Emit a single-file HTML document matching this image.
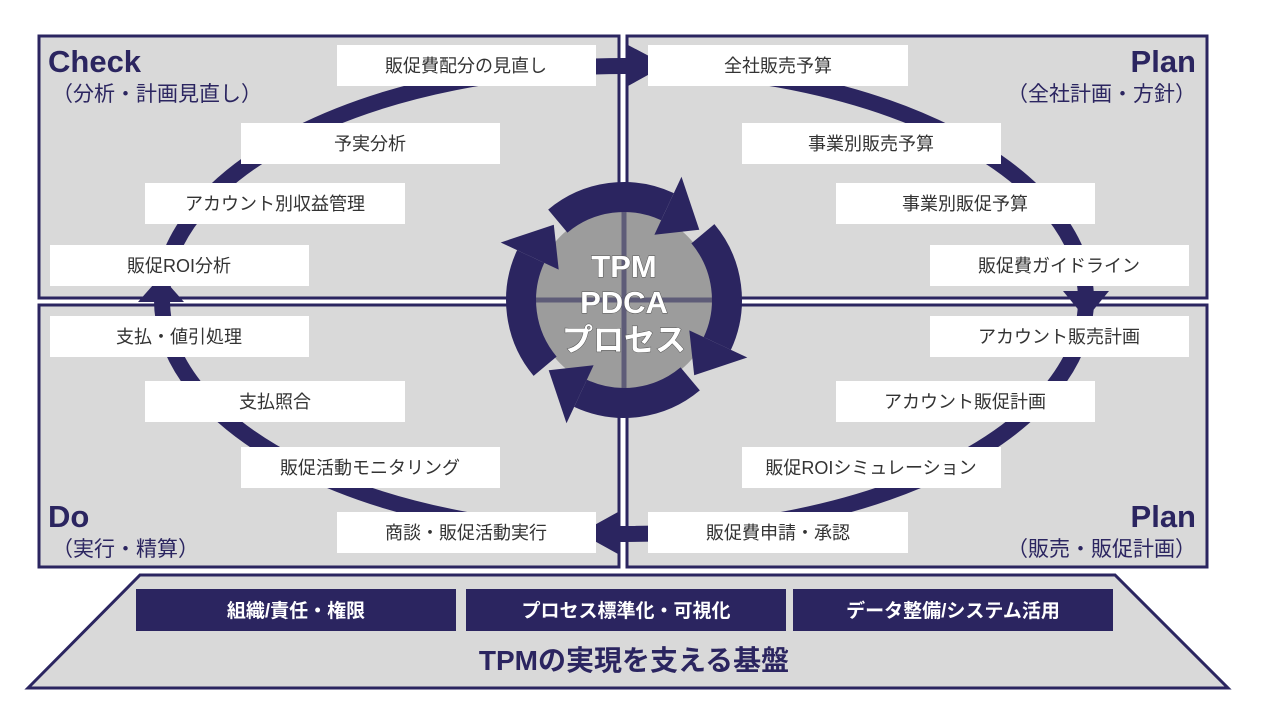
<!DOCTYPE html>
<html><head><meta charset="utf-8"><style>
body{margin:0;background:#fff;}
svg text{font-family:"Liberation Sans","Noto Sans CJK JP",sans-serif;}
</style></head><body>
<svg width="1280" height="720" viewBox="0 0 1280 720" xmlns="http://www.w3.org/2000/svg">
<g fill="#d9d9d9" stroke="#2b2560" stroke-width="3">
<rect x="39" y="36" width="580" height="262"/>
<rect x="627" y="36" width="580" height="262"/>
<rect x="39" y="305" width="580" height="262"/>
<rect x="627" y="305" width="580" height="262"/>
<polygon points="28,688 140,575 1115,575 1228,688"/>
</g>
<ellipse cx="624" cy="300" rx="462" ry="234" fill="none" stroke="#2b2560" stroke-width="16"/>
<g fill="#2b2560">
<polygon points="1063,291 1109,291 1086,319"/>
<polygon points="138,302 184,302 161,276"/>
<polygon points="628,45 628,86 666,65"/>
<polygon points="618,512 618,554 580,533"/>
</g>
<g fill="#fff">
<rect x="337" y="45" width="259" height="41"/><rect x="648" y="45" width="260" height="41"/>
<rect x="241" y="123" width="259" height="41"/><rect x="742" y="123" width="259" height="41"/>
<rect x="145" y="183" width="260" height="41"/><rect x="836" y="183" width="259" height="41"/>
<rect x="50" y="245" width="259" height="41"/><rect x="930" y="245" width="259" height="41"/>
<rect x="50" y="316" width="259" height="41"/><rect x="930" y="316" width="259" height="41"/>
<rect x="145" y="381" width="260" height="41"/><rect x="836" y="381" width="259" height="41"/>
<rect x="241" y="447" width="259" height="41"/><rect x="742" y="447" width="259" height="41"/>
<rect x="337" y="512" width="259" height="41"/><rect x="648" y="512" width="260" height="41"/>
</g>
<g font-size="18" fill="#333" text-anchor="middle">
<text x="466" y="72">販促費配分の見直し</text><text x="778" y="72">全社販売予算</text>
<text x="370" y="150">予実分析</text><text x="871" y="150">事業別販売予算</text>
<text x="275" y="210">アカウント別収益管理</text><text x="965" y="210">事業別販促予算</text>
<text x="179" y="272">販促ROI分析</text><text x="1059" y="272">販促費ガイドライン</text>
<text x="179" y="343">支払・値引処理</text><text x="1059" y="343">アカウント販売計画</text>
<text x="275" y="408">支払照合</text><text x="965" y="408">アカウント販促計画</text>
<text x="370" y="474">販促活動モニタリング</text><text x="871" y="474">販促ROIシミュレーション</text>
<text x="466" y="539">商談・販促活動実行</text><text x="778" y="539">販促費申請・承認</text>
</g>
<g fill="#2b2560">
<text x="48" y="72" font-size="31" font-weight="bold">Check</text>
<text x="52" y="101" font-size="21">（分析・計画見直し）</text>
<text x="1196" y="72" font-size="31" font-weight="bold" text-anchor="end">Plan</text>
<text x="1196" y="101" font-size="21" text-anchor="end">（全社計画・方針）</text>
<text x="48" y="527" font-size="31" font-weight="bold">Do</text>
<text x="52" y="556" font-size="21">（実行・精算）</text>
<text x="1196" y="527" font-size="31" font-weight="bold" text-anchor="end">Plan</text>
<text x="1196" y="556" font-size="21" text-anchor="end">（販売・販促計画）</text>
</g>
<circle cx="624" cy="300" r="90" fill="#9c9c9c"/>
<g stroke="#5e5c78" stroke-width="5"><line x1="624" y1="210" x2="624" y2="390"/><line x1="534" y1="300" x2="714" y2="300"/></g>
<g id="arr" fill="#2b2560">
<path d="M702.9 233.8 A103 103 0 0 1 717.3 343.5" fill="none" stroke="#2b2560" stroke-width="30"/>
<polygon points="689.3,330.4 747.3,357.5 694.2,375.3"/>
</g>
<use href="#arr" transform="rotate(90 624 300)"/>
<use href="#arr" transform="rotate(180 624 300)"/>
<use href="#arr" transform="rotate(270 624 300)"/>
<g fill="#fff" font-size="31" font-weight="bold" text-anchor="middle" style="paint-order:stroke" stroke="#555" stroke-width="1">
<text x="624" y="277">TPM</text><text x="624" y="313">PDCA</text><text x="624" y="351">プロセス</text>
</g>
<g fill="#2b2560"><rect x="136" y="589" width="320" height="42"/><rect x="466" y="589" width="320" height="42"/><rect x="793" y="589" width="320" height="42"/></g>
<g fill="#fff" font-size="19" font-weight="bold" text-anchor="middle">
<text x="296" y="617">組織/責任・権限</text><text x="626" y="617">プロセス標準化・可視化</text><text x="953" y="617">データ整備/システム活用</text>
</g>
<text x="634" y="670" font-size="28" font-weight="bold" fill="#2b2560" text-anchor="middle">TPMの実現を支える基盤</text>
</svg>
</body></html>
